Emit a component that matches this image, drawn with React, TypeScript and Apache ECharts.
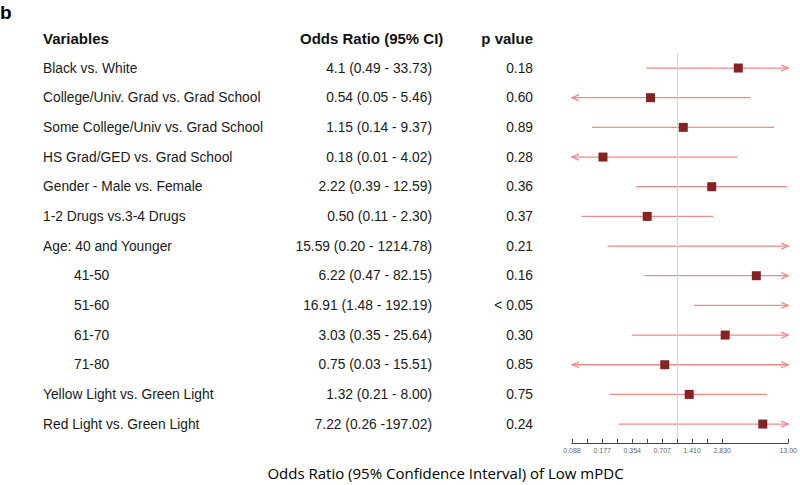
import React, { useEffect, useRef } from "react";
import * as echarts from "echarts";

const variables = [
  "Black vs. White",
  "College/Univ. Grad vs. Grad School",
  "Some College/Univ vs. Grad School",
  "HS Grad/GED vs. Grad School",
  "Gender - Male vs. Female",
  "1-2 Drugs vs.3-4 Drugs",
  "Age: 40 and Younger",
  "41-50",
  "51-60",
  "61-70",
  "71-80",
  "Yellow Light vs. Green Light",
  "Red Light vs. Green Light",
];
const indented = [false, false, false, false, false, false, false, true, true, true, true, false, false];
const oddsRatioText = [
  "4.1 (0.49 - 33.73)",
  "0.54 (0.05 - 5.46)",
  "1.15 (0.14 - 9.37)",
  "0.18 (0.01 - 4.02)",
  "2.22 (0.39 - 12.59)",
  "0.50 (0.11 - 2.30)",
  "15.59 (0.20 - 1214.78)",
  "6.22 (0.47 - 82.15)",
  "16.91 (1.48 - 192.19)",
  "3.03 (0.35 - 25.64)",
  "0.75 (0.03 - 15.51)",
  "1.32 (0.21 - 8.00)",
  "7.22 (0.26 -197.02)",
];
const pValueText = ["0.18", "0.60", "0.89", "0.28", "0.36", "0.37", "0.21", "0.16", "< 0.05", "0.30", "0.85", "0.75", "0.24"];
const oddsRatio = [4.1, 0.54, 1.15, 0.18, 2.22, 0.5, 15.59, 6.22, 16.91, 3.03, 0.75, 1.32, 7.22];
const ciLower = [0.49, 0.05, 0.14, 0.01, 0.39, 0.11, 0.2, 0.47, 1.48, 0.35, 0.03, 0.21, 0.26];
const ciUpper = [33.73, 5.46, 9.37, 4.02, 12.59, 2.3, 1214.78, 82.15, 192.19, 25.64, 15.51, 8.0, 197.02];

const tickValues = [0.088, 0.125, 0.177, 0.25, 0.354, 0.5, 0.707, 1, 1.41, 2, 2.83, 13];
const tickLabelValues = [0.088, 0.177, 0.354, 0.707, 1.41, 2.83, 13];
const tickLabelTexts = ["0.088", "0.177", "0.354", "0.707", "1.410", "2.830", "13.00"];
const AXIS_MIN = 0.088;
const AXIS_MAX = 13;

const LINE_COLOR = "#f08a8a";
const BOX_COLOR = "#862222";
const TEXT_FONT = "'Liberation Sans', Arial, sans-serif";
const BODY_SIZE = 13.8;

export default function App() {
  const ref = useRef<HTMLDivElement>(null);
  useEffect(() => {
    if (!ref.current) return;
    const chart = echarts.init(ref.current, null, { renderer: "svg" });
    const rows = variables.map((_, i) => [i, ciLower[i], oddsRatio[i], ciUpper[i]]);
    const labelFor = (v: number) => {
      let best = 0;
      tickLabelValues.forEach((t, i) => {
        if (Math.abs(Math.log(t) - Math.log(v)) < Math.abs(Math.log(tickLabelValues[best]) - Math.log(v))) best = i;
      });
      return tickLabelTexts[best];
    };
    const catAxisBase = {
      type: "category" as const,
      inverse: true,
      position: "left" as const,
      axisLine: { show: false },
      axisTick: { show: false },
      splitLine: { show: false },
    };
    chart.setOption({
      animation: false,
      grid: { left: 572, right: 10.5, top: 53.2, bottom: 46.1, containLabel: false },
      xAxis: {
        type: "log",
        logBase: 2,
        min: AXIS_MIN,
        max: AXIS_MAX,
        offset: 4,
        axisLine: { show: true, lineStyle: { color: "#444", width: 1 } },
        axisTick: { show: true, inside: true, length: 4, customValues: tickValues, lineStyle: { color: "#444", width: 1 } },
        axisLabel: {
          customValues: tickLabelValues,
          formatter: (v: number) => labelFor(v),
          fontSize: 7,
          color: "#666",
          margin: 4,
          fontFamily: TEXT_FONT,
        },
        splitLine: { show: false },
        minorTick: { show: false },
      },
      yAxis: [
        {
          ...catAxisBase,
          data: variables,
          axisLabel: {
            align: "left",
            margin: 529,
            fontSize: BODY_SIZE,
            color: "#1a1a1a",
            fontFamily: TEXT_FONT,
            formatter: (value: string, idx: number) => (indented[idx] ? `{ind|${value}}` : `{base|${value}}`),
            rich: {
              base: { fontSize: BODY_SIZE, color: "#1a1a1a", fontFamily: TEXT_FONT },
              ind: { fontSize: BODY_SIZE, color: "#1a1a1a", fontFamily: TEXT_FONT, padding: [0, 0, 0, 31] },
            },
          },
        },
        {
          ...catAxisBase,
          data: oddsRatioText,
          axisLabel: { align: "right", margin: 140, fontSize: BODY_SIZE, color: "#1a1a1a", fontFamily: TEXT_FONT },
        },
        {
          ...catAxisBase,
          data: pValueText,
          axisLabel: { align: "right", margin: 39, fontSize: BODY_SIZE, color: "#1a1a1a", fontFamily: TEXT_FONT },
        },
      ],
      graphic: [
        { type: "text", left: 0, top: 3, style: { text: "b", font: `bold 19px ${TEXT_FONT}`, fill: "#000" } },
        { type: "text", x: 43, y: 38, style: { text: "Variables", font: `bold 15px ${TEXT_FONT}`, fill: "#111", textVerticalAlign: "middle" } },
        { type: "text", x: 300, y: 38, style: { text: "Odds Ratio (95% CI)", font: `bold 15px ${TEXT_FONT}`, fill: "#111", textVerticalAlign: "middle" } },
        { type: "text", x: 533, y: 38, style: { text: "p value", font: `bold 15px ${TEXT_FONT}`, fill: "#111", textAlign: "right", textVerticalAlign: "middle" } },
        {
          type: "text",
          x: 445.5,
          y: 473,
          style: {
            text: "Odds Ratio (95% Confidence Interval) of Low mPDC",
            font: `15px 'Open Sans', sans-serif`,
            fill: "#000",
            textAlign: "center",
            textVerticalAlign: "middle",
          },
        },
      ],
      series: [
        {
          type: "line",
          data: [],
          z: 1,
          markLine: {
            silent: true,
            symbol: ["none", "none"],
            label: { show: false },
            lineStyle: { color: "#d6d6d6", width: 1, type: "solid" },
            data: [{ xAxis: 1 }],
          },
        },
        {
          type: "custom",
          z: 3,
          clip: false,
          data: rows,
          encode: { y: 0, x: [1, 2, 3] },
          renderItem: (params: any, api: any) => {
            const idx = api.value(0);
            const lo = api.value(1);
            const or = api.value(2);
            const hi = api.value(3);
            const cs = params.coordSys;
            const y = api.coord([1, idx])[1];
            const xl = lo < AXIS_MIN ? cs.x : api.coord([lo, idx])[0];
            const xr = hi > AXIS_MAX ? cs.x + cs.width : api.coord([hi, idx])[0];
            const stroke = { stroke: LINE_COLOR, lineWidth: 1.3, fill: "none" };
            const children: any[] = [{ type: "line", shape: { x1: xl, y1: y, x2: xr, y2: y }, style: stroke }];
            if (lo < AXIS_MIN) {
              children.push({ type: "polyline", shape: { points: [[xl + 7, y - 3], [xl, y], [xl + 7, y + 3]] }, style: stroke });
            }
            if (hi > AXIS_MAX) {
              children.push({ type: "polyline", shape: { points: [[xr - 7, y - 3], [xr, y], [xr - 7, y + 3]] }, style: stroke });
            }
            if (or >= AXIS_MIN && or <= AXIS_MAX) {
              const cx = api.coord([or, idx])[0];
              children.push({ type: "rect", shape: { x: cx - 4.5, y: y - 4.5, width: 9, height: 9 }, style: { fill: BOX_COLOR } });
            }
            return { type: "group", children };
          },
        },
      ],
    });
    return () => chart.dispose();
  }, []);
  return <div ref={ref} style={{ width: 800, height: 485, position: "absolute", left: 0, top: 0 }} />;
}
